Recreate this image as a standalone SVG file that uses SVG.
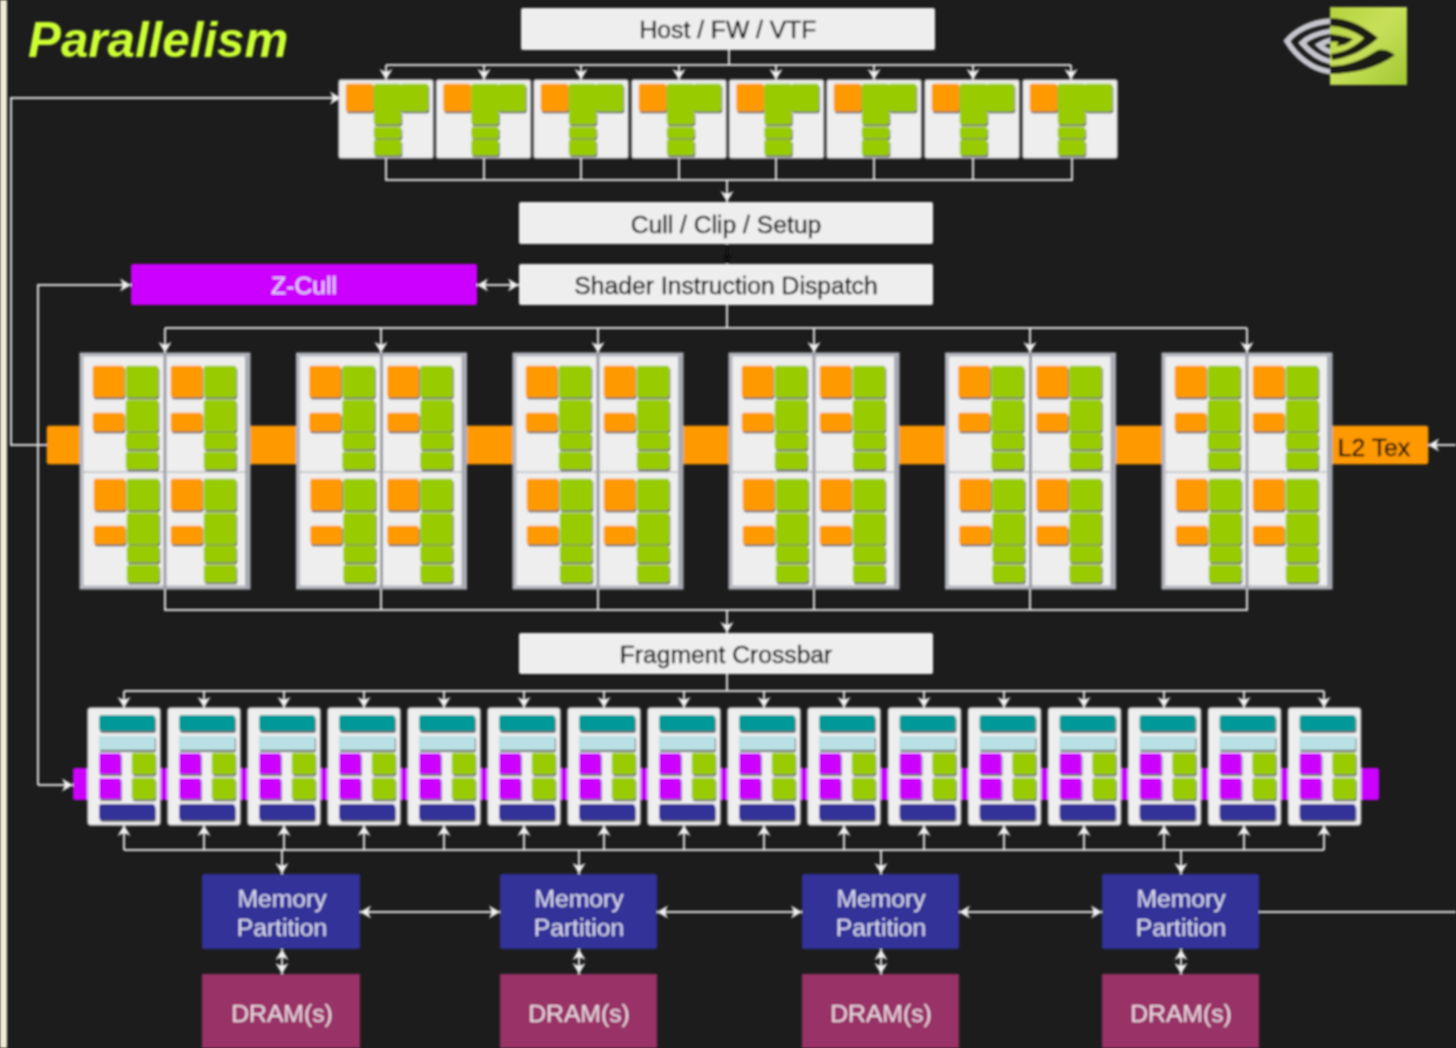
<svg xmlns="http://www.w3.org/2000/svg" width="1456" height="1048" viewBox="0 0 1456 1048">
<style>
.t{font-family:"Liberation Sans",Arial,sans-serif;font-size:24.7px;text-anchor:middle}
.d{fill:#000;stroke:#000;stroke-width:.35}.w{fill:#dcdcf0}
.box{fill:#eeeeee}
.card{fill:#eeeeee;stroke:#cfcfcf;stroke-width:1.5}
.o{fill:#ff9900;stroke:#ff9900;stroke-width:.6}.g{fill:#99cc00;stroke:#99cc00;stroke-width:.6}.m{fill:#cc00ff}.b{fill:#333399}.te{fill:#009999}.l{fill:#b9e0e4}.r{fill:#993366}
.c{fill:none;stroke:#e2e2e2;stroke-width:2}
.a{marker-end:url(#ar)}
.aa{marker-start:url(#ar);marker-end:url(#ar)}
</style>
<defs>
<marker id="ar" markerUnits="userSpaceOnUse" markerWidth="12" markerHeight="14" refX="11" refY="7" orient="auto-start-reverse"><path d="M0 0.5L11 7L0 13.5L3 7Z" fill="#f0f0f0"/></marker>
<marker id="ad" markerUnits="userSpaceOnUse" markerWidth="10" markerHeight="10" refX="8" refY="5" orient="auto"><path d="M0 1L8 5L0 9Z" fill="#111"/></marker>
<filter id="sh" x="-5%" y="-5%" width="110%" height="110%"><feDropShadow dx="1" dy="2" stdDeviation="0" flood-color="#000" flood-opacity="0.6"/></filter>
<filter id="soft" x="0" y="0" width="100%" height="100%"><feGaussianBlur stdDeviation="0.8"/></filter>
<linearGradient id="lg" x1="0" y1="0" x2="1" y2="1"><stop offset="0" stop-color="#b4d23c"/><stop offset="0.45" stop-color="#c8e05a"/><stop offset="1" stop-color="#a0c832"/></linearGradient>
<clipPath id="lc"><rect x="1270" y="0" width="60" height="100"/></clipPath>
<g id="vs">
<rect class="card" width="94" height="78" rx="2"/>
<g filter="url(#sh)">
<rect class="o" x="7" y="4" width="27" height="27" rx="2"/>
<rect class="g" x="35" y="4" width="27" height="27" rx="2"/>
<rect class="g" x="62" y="4" width="27" height="27" rx="2"/>
<rect class="g" x="35" y="31" width="27" height="13" rx="2"/>
<rect class="g" x="35" y="47" width="27" height="11" rx="2"/>
<rect class="g" x="35" y="60" width="27" height="15" rx="2"/>
</g></g>
<g id="cell" filter="url(#sh)">
<rect class="o" width="31" height="31" rx="2"/>
<rect class="g" x="33" width="32" height="31" rx="2"/>
<rect class="g" x="33" y="34" width="32" height="31" rx="2"/>
<rect class="o" y="47" width="31" height="18" rx="2"/>
<rect class="g" x="33" y="67" width="32" height="16" rx="2"/>
<rect class="g" x="33" y="86" width="32" height="17" rx="2"/>
</g>
<g id="ss">
<rect x="1.5" y="1.5" width="167" height="233" fill="#eeeeee" stroke="#b4b6be" stroke-width="4"/>
<rect x="165" y="2" width="5" height="234" fill="#a8aab2"/>
<path d="M4 119H166" stroke="#a8aab2" stroke-width="1.5" stroke-dasharray="3 1" fill="none"/>
<path d="M85 0V236" stroke="#9a9ca6" stroke-width="3" fill="none"/>
<use href="#cell" x="13" y="13"/><use href="#cell" x="91" y="13"/>
<use href="#cell" x="14" y="126"/><use href="#cell" x="91" y="126"/>
</g>
<g id="rop">
<rect class="card" width="72" height="117" rx="3"/>
<g filter="url(#sh)">
<rect class="te" x="11" y="7" width="56" height="16" rx="3"/>
<rect class="l" x="11" y="28" width="56" height="14"/>
<rect class="m" x="11" y="45" width="22" height="21" rx="2"/>
<rect class="m" x="11" y="70" width="22" height="21" rx="2"/>
<rect class="g" x="44" y="45" width="23" height="21" rx="2"/>
<rect class="g" x="44" y="70" width="23" height="21" rx="2"/>
<rect class="b" x="11" y="96" width="56" height="16" rx="3"/>
</g></g>
</defs>
<rect width="1456" height="1048" fill="#1c1c1c"/>
<g filter="url(#soft)">
<rect width="7" height="1048" fill="#f0ead6"/>
<g id="title"><text x="28" y="57" style="font-family:'Liberation Sans',Arial,sans-serif;font-size:49.3px;font-weight:bold;font-style:italic;fill:#ccff33">Parallelism</text></g>
<g id="logo">
<rect x="1330" y="7" width="77" height="78" fill="url(#lg)"/>
<g clip-path="url(#lc)" fill="none" stroke="#c4c4cc" stroke-width="6">
<path d="M1332 21C1312 22 1296 30 1287 41C1296 56 1312 70 1332 72"/>
<path d="M1332 31C1318 33 1308 37 1302 43C1308 50 1318 59 1332 62"/>
<path d="M1332 40C1326 41 1322 43 1319 45C1322 48 1326 51 1332 52"/>
</g>
<path d="M1330 18C1350 18 1366 28 1378 38C1366 49 1350 58 1332 60L1331 54C1345 52 1356 46 1364 38C1354 31 1344 27 1330 26ZM1330 34C1340 35 1348 37 1353 39C1348 44 1342 46 1336 46C1340 42 1338 41 1330 42ZM1330 74C1352 74 1378 68 1395 55C1389 50 1384 49 1378 50C1362 60 1348 66 1330 66Z" fill="#1a1a14"/>
</g>
<g id="connectors">
<path class="c" d="M729 50V65M386 65H1071"/>
<path class="c a" d="M386 65V80"/><path class="c a" d="M484 65V80"/><path class="c a" d="M581 65V80"/><path class="c a" d="M679 65V80"/><path class="c a" d="M776 65V80"/><path class="c a" d="M874 65V80"/><path class="c a" d="M973 65V80"/><path class="c a" d="M1071 65V80"/>
<path class="c" d="M386 158V180H1072V158M484 158V180M581 158V180M679 158V180M776 158V180M874 158V180M973 158V180"/>
<path class="c a" d="M727 180V202"/>
<path d="M727 244V264" stroke="#111" stroke-width="2" marker-end="url(#ad)"/>
<path class="c aa" d="M477 285H519"/>
<path class="c a" d="M50 445H11V98H341"/>
<path class="c a" d="M38 785V285H131"/>
<path class="c a" d="M38 785H73"/>
<path class="c" d="M727 305V328M165 328H1247"/>
<path class="c a" d="M165 328V353"/><path class="c a" d="M381 328V353"/><path class="c a" d="M598 328V353"/><path class="c a" d="M814 328V353"/><path class="c a" d="M1030 328V353"/><path class="c a" d="M1247 328V353"/>
<path class="c" d="M165 589V610H1247V589M381 589V610M598 589V610M814 589V610M1030 589V610"/>
<path class="c a" d="M727 610V633"/>
<path class="c a" d="M1456 445H1428"/>
<path class="c" d="M727 674V691M124 691H1324"/>
<path class="c a" d="M124 691V708"/><path class="c a" d="M204 691V708"/><path class="c a" d="M284 691V708"/><path class="c a" d="M364 691V708"/><path class="c a" d="M444 691V708"/><path class="c a" d="M524 691V708"/><path class="c a" d="M604 691V708"/><path class="c a" d="M684 691V708"/><path class="c a" d="M764 691V708"/><path class="c a" d="M844 691V708"/><path class="c a" d="M924 691V708"/><path class="c a" d="M1004 691V708"/><path class="c a" d="M1084 691V708"/><path class="c a" d="M1164 691V708"/><path class="c a" d="M1244 691V708"/><path class="c a" d="M1324 691V708"/>
<path class="c" d="M124 850H1324"/>
<path class="c a" d="M124 850V825"/><path class="c a" d="M204 850V825"/><path class="c a" d="M284 850V825"/><path class="c a" d="M364 850V825"/><path class="c a" d="M444 850V825"/><path class="c a" d="M524 850V825"/><path class="c a" d="M604 850V825"/><path class="c a" d="M684 850V825"/><path class="c a" d="M764 850V825"/><path class="c a" d="M844 850V825"/><path class="c a" d="M924 850V825"/><path class="c a" d="M1004 850V825"/><path class="c a" d="M1084 850V825"/><path class="c a" d="M1164 850V825"/><path class="c a" d="M1244 850V825"/><path class="c a" d="M1324 850V825"/>
<path class="c a" d="M282 850V874"/><path class="c a" d="M579 850V874"/><path class="c a" d="M881 850V874"/><path class="c a" d="M1181 850V874"/>
<path class="c aa" d="M360 912H500"/><path class="c aa" d="M657 912H802"/><path class="c aa" d="M959 912H1102"/>
<path class="c" d="M1259 912H1456"/>
<path class="c aa" d="M282 949V974"/><path class="c aa" d="M579 949V974"/><path class="c aa" d="M881 949V974"/><path class="c aa" d="M1181 949V974"/>
</g>
<g id="host"><rect class="box" x="521" y="8" width="414" height="42" rx="2"/><text class="t d" x="728" y="38">Host / FW / VTF</text></g>
<g id="vertex-units">
<g id="v1"><use href="#vs" x="339" y="80"/></g>
<g id="v2"><use href="#vs" x="436.5" y="80"/></g>
<g id="v3"><use href="#vs" x="534" y="80"/></g>
<g id="v4"><use href="#vs" x="632" y="80"/></g>
<g id="v5"><use href="#vs" x="729.5" y="80"/></g>
<g id="v6"><use href="#vs" x="827" y="80"/></g>
<g id="v7"><use href="#vs" x="925" y="80"/></g>
<g id="v8"><use href="#vs" x="1023" y="80"/></g>
</g>
<g id="cull"><rect class="box" x="519" y="202" width="414" height="42" rx="2"/><text class="t d" x="726" y="233">Cull / Clip / Setup</text></g>
<g id="zcull"><rect class="m" x="131" y="264" width="346" height="41" rx="2"/><text class="t w" x="304" y="294">Z-Cull</text></g>
<g id="dispatch"><rect class="box" x="519" y="264" width="414" height="41" rx="2"/><text class="t d" x="726" y="294">Shader Instruction Dispatch</text></g>
<g id="l2tex"><rect class="o" x="47" y="426" width="1381" height="38" rx="2"/><text class="t d" x="1374" y="456">L2 Tex</text></g>
<g id="shader-units">
<g id="s1"><use href="#ss" x="80" y="353"/></g>
<g id="s2"><use href="#ss" x="296.5" y="353"/></g>
<g id="s3"><use href="#ss" x="513" y="353"/></g>
<g id="s4"><use href="#ss" x="729" y="353"/></g>
<g id="s5"><use href="#ss" x="945.5" y="353"/></g>
<g id="s6"><use href="#ss" x="1162" y="353"/></g>
</g>
<g id="fragment"><rect class="box" x="519" y="633" width="414" height="41" rx="2"/><text class="t d" x="726" y="663">Fragment Crossbar</text></g>
<g id="rop-bar"><rect class="m" x="73" y="768" width="1306" height="32" rx="2"/></g>
<g id="rop-units">
<g id="r1"><use href="#rop" x="88" y="708"/></g>
<g id="r2"><use href="#rop" x="168" y="708"/></g>
<g id="r3"><use href="#rop" x="248" y="708"/></g>
<g id="r4"><use href="#rop" x="328" y="708"/></g>
<g id="r5"><use href="#rop" x="408" y="708"/></g>
<g id="r6"><use href="#rop" x="488" y="708"/></g>
<g id="r7"><use href="#rop" x="568" y="708"/></g>
<g id="r8"><use href="#rop" x="648" y="708"/></g>
<g id="r9"><use href="#rop" x="728" y="708"/></g>
<g id="r10"><use href="#rop" x="808" y="708"/></g>
<g id="r11"><use href="#rop" x="888.5" y="708"/></g>
<g id="r12"><use href="#rop" x="968.5" y="708"/></g>
<g id="r13"><use href="#rop" x="1048.5" y="708"/></g>
<g id="r14"><use href="#rop" x="1128.5" y="708"/></g>
<g id="r15"><use href="#rop" x="1208.5" y="708"/></g>
<g id="r16"><use href="#rop" x="1288.5" y="708"/></g>
</g>
<g id="mem1"><rect class="b" x="202" y="874" width="158" height="75" rx="2"/><text class="t w" x="282" y="907">Memory</text><text class="t w" x="282" y="936">Partition</text></g>
<g id="mem2"><rect class="b" x="500" y="874" width="157" height="75" rx="2"/><text class="t w" x="579" y="907">Memory</text><text class="t w" x="579" y="936">Partition</text></g>
<g id="mem3"><rect class="b" x="802" y="874" width="157" height="75" rx="2"/><text class="t w" x="881" y="907">Memory</text><text class="t w" x="881" y="936">Partition</text></g>
<g id="mem4"><rect class="b" x="1102" y="874" width="157" height="75" rx="2"/><text class="t w" x="1181" y="907">Memory</text><text class="t w" x="1181" y="936">Partition</text></g>
<g id="dram1"><rect class="r" x="202" y="974" width="158" height="74"/><text class="t" fill="#ecdde6" x="282" y="1022">DRAM(s)</text></g>
<g id="dram2"><rect class="r" x="500" y="974" width="157" height="74"/><text class="t" fill="#ecdde6" x="579" y="1022">DRAM(s)</text></g>
<g id="dram3"><rect class="r" x="802" y="974" width="157" height="74"/><text class="t" fill="#ecdde6" x="881" y="1022">DRAM(s)</text></g>
<g id="dram4"><rect class="r" x="1102" y="974" width="157" height="74"/><text class="t" fill="#ecdde6" x="1181" y="1022">DRAM(s)</text></g>
</g>
</svg>
